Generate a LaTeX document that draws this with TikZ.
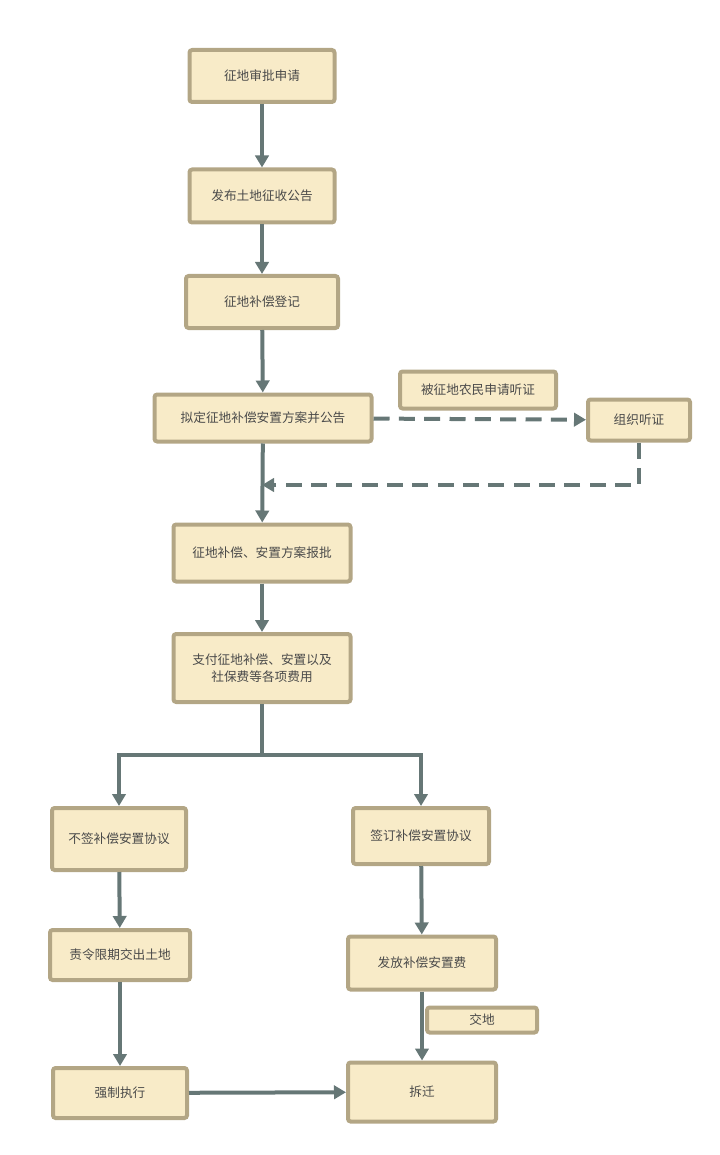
\documentclass[tikz,border=0pt]{standalone}
\usepackage{fontspec}
\setmainfont{Noto Sans CJK SC}
\usetikzlibrary{arrows.meta}
\definecolor{boxfill}{HTML}{F8EBC8}
\definecolor{boxline}{HTML}{B3A685}
\definecolor{flow}{HTML}{667776}
\definecolor{txt}{HTML}{4A4A4A}
\begin{document}
\begin{tikzpicture}[x=0.75pt, y=-0.75pt,
box/.style={rectangle, rounded corners=2pt, draw=boxline, line width=3pt, fill=boxfill, text=txt, font=\fontsize{9.5}{13}\selectfont, align=center, inner sep=0pt},
flowline/.style={draw=flow, line width=3pt, -{Triangle[length=9pt, width=10pt]}},
dashflow/.style={flowline, dash pattern=on 12pt off 7pt},
]
\useasboundingbox (0,0) rectangle (720,1155);
%Main column
\node[box, minimum width=145*0.75pt, minimum height=52*0.75pt] (apply) at (262,76) {征地审批申请};
\node[box, minimum width=145*0.75pt, minimum height=53*0.75pt] (notice) at (262,196) {发布土地征收公告};
\node[box, minimum width=152*0.75pt, minimum height=52*0.75pt] (register) at (262,302) {征地补偿登记};
\node[box, minimum width=217*0.75pt, minimum height=47*0.75pt] (plan) at (263,418) {拟定征地补偿安置方案并公告};
\node[box, minimum width=156*0.75pt, minimum height=37*0.75pt] (request) at (478,390) {被征地农民申请听证};
\node[box, minimum width=102*0.75pt, minimum height=41*0.75pt] (hearing) at (639,420) {组织听证};
\node[box, minimum width=177*0.75pt, minimum height=57*0.75pt] (approve) at (262,553) {征地补偿、安置方案报批};
\node[box, minimum width=177*0.75pt, minimum height=68*0.75pt] (pay) at (262,668) {支付征地补偿、安置以及\\社保费等各项费用};

%Left branch
\node[box, minimum width=134*0.75pt, minimum height=62*0.75pt] (nosign) at (119,839) {不签补偿安置协议};
\node[box, minimum width=140*0.75pt, minimum height=50*0.75pt] (order) at (120,955) {责令限期交出土地};
\node[box, minimum width=134*0.75pt, minimum height=50*0.75pt] (force) at (120,1093) {强制执行};

%Right branch
\node[box, minimum width=136*0.75pt, minimum height=56*0.75pt] (sign) at (421,836) {签订补偿安置协议};
\node[box, minimum width=148*0.75pt, minimum height=53*0.75pt] (fee) at (422,963) {发放补偿安置费};
\node[box, minimum width=110*0.75pt, minimum height=25*0.75pt] (hand) at (482,1020) {交地};
\node[box, minimum width=148*0.75pt, minimum height=59*0.75pt] (demolish) at (422,1092) {拆迁};

\coordinate (merge) at (262,485);
\coordinate (split) at (262,755);

%Connections
\draw[flowline] (apply) -- (notice);
\draw[flowline] (notice) -- (register);
\draw[flowline] (register) -- (plan);
\draw[flowline] (plan) -- (approve);
\draw[dashflow] (plan) -- (hearing);
\draw[dashflow] (hearing.south) |- (merge);
\draw[flowline] (approve) -- (pay);
\draw[draw=flow, line width=3pt] (pay) -- (split);
\draw[flowline] (split) -| (nosign);
\draw[flowline] (split) -| (sign);
\draw[flowline] (nosign) -- (order);
\draw[flowline] (order) -- (force);
\draw[flowline] (sign) -- (fee);
\draw[flowline] (fee) -- (demolish);
\draw[flowline] (force) -- (demolish);
\end{tikzpicture}
\end{document}
